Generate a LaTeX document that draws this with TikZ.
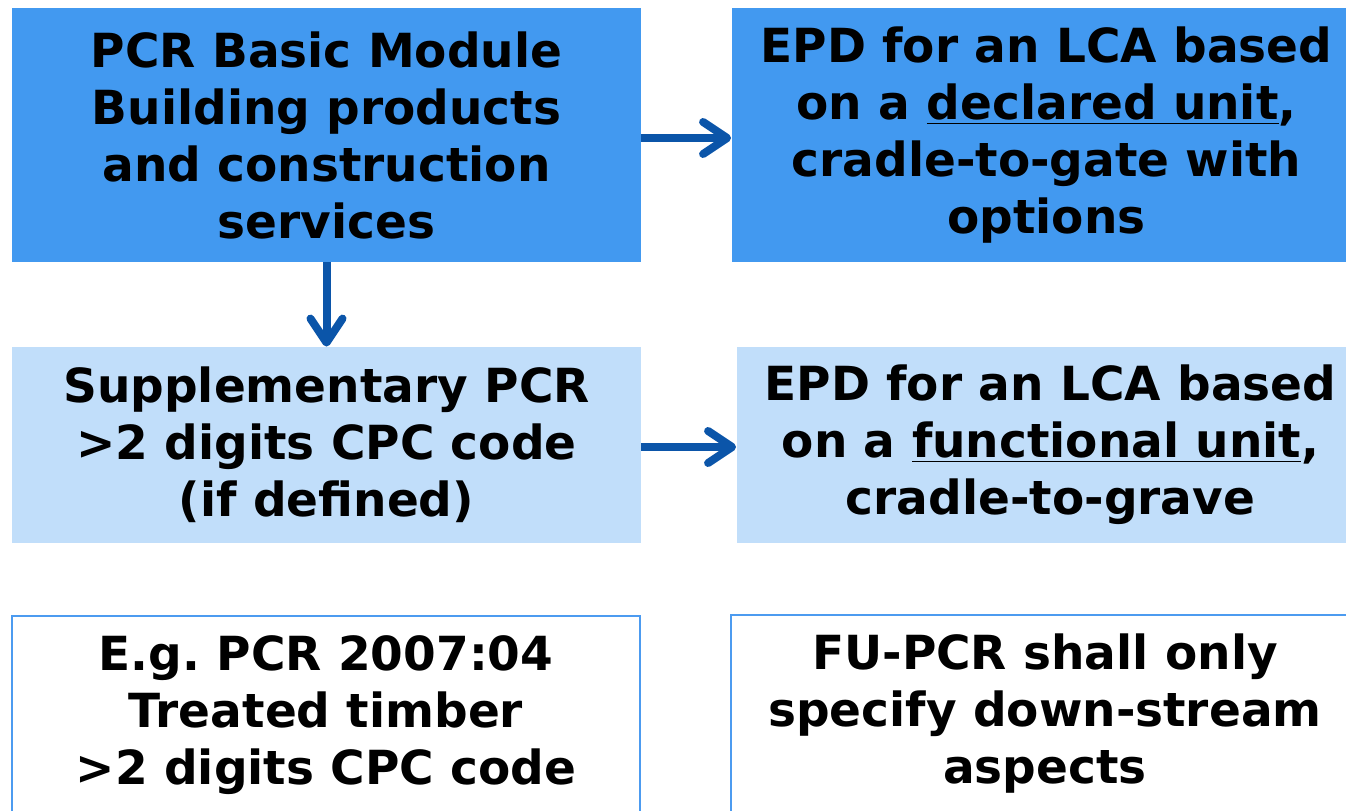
\documentclass[tikz,border=0pt]{standalone}
\usepackage{fontspec}
\setmainfont{DejaVu Sans}
\usetikzlibrary{positioning, arrows.meta}

\definecolor{darkfill}{RGB}{66,153,240}
\definecolor{lightfill}{RGB}{193,222,250}
\definecolor{edgeblue}{RGB}{76,155,240}
\definecolor{arrowblue}{RGB}{11,85,169}

\tikzset{
  box/.style={rectangle, inner sep=0pt, align=center,
    font=\fontsize{23.5}{28.5}\selectfont\bfseries},
  darkbox/.style={box, fill=darkfill, minimum width=314.5pt, minimum height=127pt},
  lightbox/.style={box, fill=lightfill, minimum height=98pt},
  framebox/.style={box, draw=edgeblue, line width=0.8pt, minimum height=99pt},
  flow/.style={draw=arrowblue, line width=4pt,
    -{Straight Barb[length=12pt,width=16pt,round]}}
}

\begin{document}
\frenchspacing
\begin{tikzpicture}[x=0.5pt,y=-0.5pt,node distance=4cm,on grid]
        \useasboundingbox (0,0) rectangle (1346,810);
        \begin{scope}
        \clip (0,0) rectangle (1346,810);
        \node[darkbox] (pcr) at (326.5,135) {PCR Basic Module\\Building products\\and construction\\services};
        \node[darkbox, minimum width=315pt, right=360pt of pcr] (epdd) {EPD for an LCA based\\on a \underline{declared unit},\\cradle-to-gate with\\options};
        \node[lightbox, minimum width=314.5pt, below=155pt of pcr] (sup) {Supplementary PCR\\>2 digits CPC code\\(if defined)};
        \node[lightbox, minimum width=314pt, right=362pt of sup] (epdf) {EPD for an LCA based\\on a \underline{functional unit},\\cradle-to-grave};
        \node[framebox, minimum width=314pt, below=135pt of sup, xshift=-0.25pt] (ex) {E.g. PCR 2007:04\\Treated timber\\>2 digits CPC code};
        \node[framebox, minimum width=314pt, right=359.5pt of ex, yshift=0.5pt] (fu) {FU-PCR shall only\\specify down-stream\\aspects};
        \end{scope}
        \draw[flow] (pcr.east |- 0,138) -- (epdd.west |- 0,138);
        \draw[flow] (pcr) -- (sup);
        \draw[flow] (sup.east |- 0,447) -- (epdf.west |- 0,447);
    \end{tikzpicture}
\end{document}
